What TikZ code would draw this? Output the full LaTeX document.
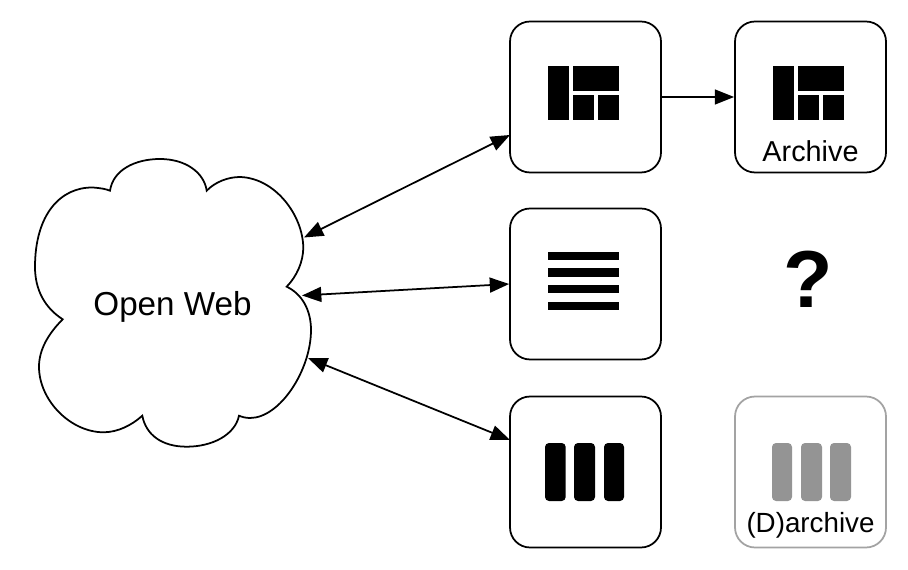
\documentclass[tikz,border=0pt]{standalone}
\usepackage{fontspec}
\setmainfont{Liberation Sans}
\usetikzlibrary{arrows.meta}

\definecolor{fadeline}{HTML}{A3A3A3}
\definecolor{fadefill}{HTML}{949494}
\tikzset{
  line/.style={draw=black,line width=1pt},
  conn/.style={line,-{Triangle[length=11pt,width=8.5pt]}},
  biconn/.style={line,{Triangle[length=11pt,width=8.5pt]}-{Triangle[length=11pt,width=8.5pt]}},
  store/.style={line,rectangle,rounded corners=0.4cm,inner sep=0pt,minimum size=3.02cm},
  caption/.style={inner sep=0pt,font=\fontsize{16.4}{18}\selectfont}
}

\begin{document}
\begin{tikzpicture}[x=0.02cm,y=-0.02cm]
           \useasboundingbox[fill=white] (0,0) rectangle (908,570);
           % cloud
           \draw[line] (62.7,319.3) .. controls (45,308) and (35,290) .. (35,267)
              .. controls (35,215) and (60,187) .. (93,187.5)
              .. controls (100,188) and (106,189) .. (110,190.7)
              .. controls (113,170) and (135,159) .. (160,159)
              .. controls (185,159) and (204,172) .. (206.7,190.7)
              .. controls (215,182) and (228,177) .. (240,177)
              .. controls (275,178) and (303,215) .. (303.3,248)
              .. controls (303,262) and (297,276) .. (286.7,286.7)
              .. controls (302,294) and (311,310) .. (311,330)
              .. controls (311,370) and (280,418) .. (250,418)
              .. controls (246,418) and (242,417) .. (239,415.7)
              .. controls (235,435) and (212,446.7) .. (186.7,446.7)
              .. controls (162,446.7) and (146,435) .. (142.3,415.7)
              .. controls (132,425) and (118,432.3) .. (103.3,432.3)
              .. controls (70,432) and (39,400) .. (39,366.7)
              .. controls (39,350) and (48,334) .. (62.7,319.3) -- cycle;
           \node[inner sep=0pt,font=\fontsize{18.9}{20}\selectfont] (web) at (172.5,306.5) {Open Web};
           \coordinate (webtop) at (304,237.5);
           \coordinate (webmid) at (302,295.5);
           \coordinate (webbot) at (308,358);

           % boxes
           \node[store] (grid) at (585.5,97) {};
           \node[store] (list) at (585.5,284) {};
           \node[store] (cols) at (585.5,472) {};
           \node[store] (archive) at (810.5,97) {};
           \node[store,draw=fadeline] (darchive) at (810.5,472) {};
           \coordinate (gridin) at (510,135);
           \coordinate (colsin) at (510,440);

           % icons
           \foreach \dx in {0,225} {
              \fill (548+\dx,66) rectangle (569+\dx,120);
              \fill (573+\dx,66) rectangle (619+\dx,90.7);
              \fill (573+\dx,95) rectangle (594+\dx,120);
              \fill (598+\dx,95) rectangle (619+\dx,120);
           }
           \fill (548,252) rectangle (619,260);
           \fill (548,268) rectangle (619,277);
           \fill (548,285) rectangle (619,293);
           \fill (548,302) rectangle (619,310);
           \foreach \xa/\xb in {545/565.7,574/595,604/624}
              \fill[rounded corners=0.08cm] (\xa,443) rectangle (\xb,501);
           \foreach \xa/\xb in {772/792,801/822,830/851}
              \fill[fadefill,rounded corners=0.08cm] (\xa,443) rectangle (\xb,501);

           % labels
           \node[caption] (archivetext) at (810.5,151) {Archive};
           \node[caption,font=\fontsize{15.8}{18}\selectfont] (darchivetext) at (810.5,525) {(D)archive};
           \node[inner sep=0pt,font=\fontsize{46}{50}\selectfont\bfseries] (unknown) at (808,279.5) {?};

           % connectors
           \draw[biconn] (webtop) -- (gridin);
           \draw[biconn] (webmid) -- (list.west);
           \draw[biconn] (webbot) -- (colsin);
           \draw[conn] (grid.east) -- (archive.west);
        \end{tikzpicture}
\end{document}
